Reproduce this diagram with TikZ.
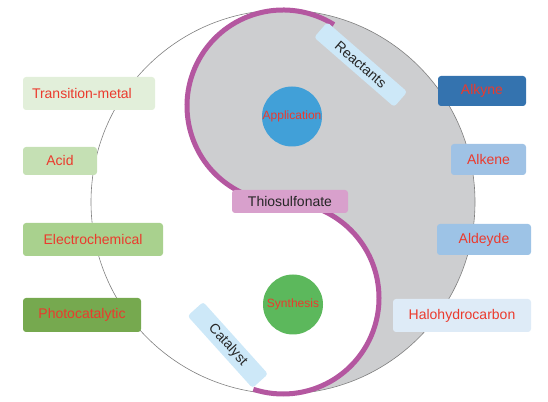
\documentclass[tikz,border=0pt]{standalone}
\usepackage{fontspec}
\setmainfont{Liberation Sans}
\usetikzlibrary{positioning}

\definecolor{yinGray}{RGB}{205,206,208}
\definecolor{yinPurple}{RGB}{180,87,160}
\definecolor{tagRed}{RGB}{235,58,45}
\definecolor{trGreen}{RGB}{226,239,218}
\definecolor{acGreen}{RGB}{197,224,180}
\definecolor{elGreen}{RGB}{169,209,142}
\definecolor{phGreen}{RGB}{118,169,79}
\definecolor{akBlue}{RGB}{52,115,175}
\definecolor{aeBlue}{RGB}{159,194,229}
\definecolor{alBlue}{RGB}{157,195,230}
\definecolor{haBlue}{RGB}{222,235,247}
\definecolor{skyBox}{RGB}{205,232,248}
\definecolor{thioPink}{RGB}{216,160,204}
\definecolor{appBlue}{RGB}{65,160,216}
\definecolor{synGreen}{RGB}{92,184,92}

\tikzset{
  tag/.style={rounded corners=3pt, inner sep=0pt, text=tagRed,
    font=\fontsize{14}{16}\selectfont},
  slant/.style={rounded corners=3pt, inner sep=0pt, fill=skyBox,
    text=black!85, font=\fontsize{14}{16}\selectfont,
    minimum height=20},
  core/.style={circle, inner sep=0pt, minimum size=60, text=tagRed,
    font=\fontsize{12}{14}\selectfont}
}

\begin{document}
\begin{tikzpicture}[x=1pt,y=1pt]
\useasboundingbox (0,0) rectangle (548,401);

\coordinate (outc) at (283,199);
\coordinate (upc) at (283,295);
\coordinate (lowc) at (283,103);

% yin-yang body
\fill[yinGray] (outc) ++(90:192) arc[start angle=90, end angle=-90, radius=192]
  arc[start angle=-90, end angle=90, radius=96]
  arc[start angle=270, end angle=90, radius=96] -- cycle;
\draw[gray, line width=0.6] (outc) circle[radius=192];
\draw[yinPurple, line width=5] (upc) ++(58:96)
  arc[start angle=58, end angle=270, radius=96]
  arc[start angle=90, end angle=-108, radius=96];

% left tags
\node[tag, fill=trGreen, inner xsep=9, text width=114, align=left, minimum height=33] (trans) at (89,307.5) {Transition-metal};
\node[tag, fill=acGreen, minimum width=74, minimum height=28] (acid) at (60,240) {Acid};
\node[tag, fill=elGreen, minimum width=140, minimum height=33] (elec) at (93,161.5) {Electrochemical};
\node[tag, fill=phGreen, minimum width=118, minimum height=34] (photo) at (82,86) {Photocatalytic};

% right tags
\node[tag, fill=akBlue, minimum width=88, minimum height=30] (alkyne) at (482,310) {Alkyne};
\node[tag, fill=aeBlue, minimum width=75, minimum height=31] (alkene) at (488.5,241.5) {Alkene};
\node[tag, fill=alBlue, minimum width=94, minimum height=31] (ald) at (484,161.5) {Aldeyde};
\node[tag, fill=haBlue, minimum width=138, minimum height=33] (halo) at (462,85.5) {Halohydrocarbon};

% middle
\node[tag, fill=thioPink, text=black!85, minimum width=116, minimum height=23] (thio) at (290,199.5) {Thiosulfonate};
\node[slant, rotate=-41, minimum width=106] (react) at (360.7,336.4) {Reactants};
\node[slant, rotate=-48, minimum width=97, minimum height=21] (cat) at (227.8,56) {Catalyst};

\node[core, fill=appBlue] (app) at (292,284.5) {Application};
\node[core, fill=synGreen] (syn) at (293,96.5) {Synthesis};
\end{tikzpicture}
\end{document}
